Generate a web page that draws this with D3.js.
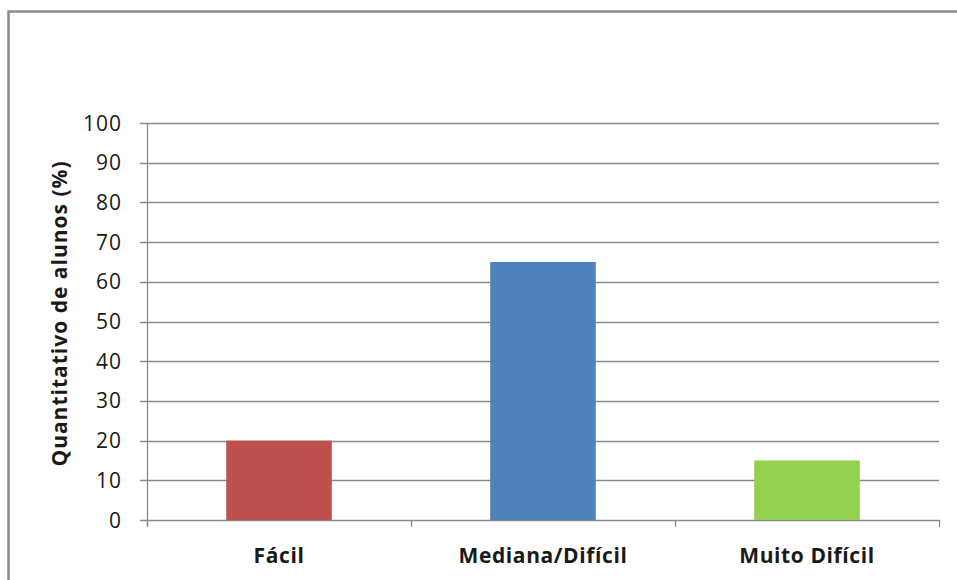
<!DOCTYPE html>
<html>
<head>
<meta charset="utf-8">
<script src="https://cdn.jsdelivr.net/npm/d3@7"></script>
<style>
  body { margin: 0; background: #fff; }
  svg { display: block; font-family: "Open Sans", Lato, sans-serif; }
</style>
</head>
<body>
<div id="chart"></div>
<script>
const categories = ["Fácil", "Mediana/Difícil", "Muito Difícil"];
const values = [20, 65, 15];
const colors = ["#C0504D", "#4F81BD", "#92D050"];
const yTicks = [0, 10, 20, 30, 40, 50, 60, 70, 80, 90, 100];

const width = 957;
const height = 580;
const marginLeft = 147;
const marginRight = 18;
const marginTop = 123;
const marginBottom = 60;

const svg = d3.select("#chart").append("svg")
    .attr("width", width)
    .attr("height", height);

// outer frame (cut off right and bottom like the source image)
svg.append("rect")
    .attr("x", 8.5).attr("y", 11.5)
    .attr("width", width + 20).attr("height", height + 20)
    .attr("fill", "none")
    .attr("stroke", "#8c8c8c")
    .attr("stroke-width", 2.5);

const x = d3.scaleBand(categories, [marginLeft, width - marginRight])
    .paddingInner(0.6)
    .paddingOuter(0.3);

const y = d3.scaleLinear([0, 100], [height - marginBottom, marginTop]);

// gridlines
svg.append("g")
  .selectAll("line")
  .data(yTicks)
  .join("line")
    .attr("x1", marginLeft - 7)
    .attr("x2", width - marginRight)
    .attr("y1", d => Math.round(y(d)) + 0.5)
    .attr("y2", d => Math.round(y(d)) + 0.5)
    .attr("stroke", "#8a8a8a")
    .attr("stroke-width", 1.3);

// y axis line
svg.append("line")
    .attr("x1", marginLeft + 0.5).attr("x2", marginLeft + 0.5)
    .attr("y1", y(100)).attr("y2", y(0) + 7)
    .attr("stroke", "#8a8a8a")
    .attr("stroke-width", 1.3);

// y tick labels
svg.append("g")
  .selectAll("text")
  .data(yTicks)
  .join("text")
    .attr("x", marginLeft - 25)
    .attr("y", d => y(d))
    .attr("dy", "0.36em")
    .attr("text-anchor", "end")
    .attr("font-size", 21)
    .attr("letter-spacing", 1)
    .attr("fill", "#1a1a1a")
    .text(d => d);

// category separators on x axis
const bandEdges = d3.range(categories.length + 1).map(i => marginLeft + i * (width - marginRight - marginLeft) / categories.length);
svg.append("g")
  .selectAll("line")
  .data(bandEdges)
  .join("line")
    .attr("x1", d => Math.round(d) + 0.5)
    .attr("x2", d => Math.round(d) + 0.5)
    .attr("y1", y(0))
    .attr("y2", y(0) + 7)
    .attr("stroke", "#8a8a8a")
    .attr("stroke-width", 1.3);

// bars
svg.append("g")
  .selectAll("rect")
  .data(values)
  .join("rect")
    .attr("x", (d, i) => x(categories[i]))
    .attr("y", d => y(d))
    .attr("width", x.bandwidth())
    .attr("height", d => y(0) - y(d))
    .attr("fill", (d, i) => colors[i]);

// category labels
svg.append("g")
  .selectAll("text")
  .data(categories)
  .join("text")
    .attr("x", d => x(d) + x.bandwidth() / 2)
    .attr("y", 563)
    .attr("text-anchor", "middle")
    .attr("font-size", 21)
    .attr("letter-spacing", 0.6)
    .attr("font-weight", "bold")
    .attr("fill", "#1a1a1a")
    .text(d => d);

// y axis title
svg.append("text")
    .attr("transform", `translate(67, ${(y(0) + y(100)) / 2 - 8}) rotate(-90)`)
    .attr("text-anchor", "middle")
    .attr("font-size", 21)
    .attr("letter-spacing", 1)
    .attr("font-weight", "bold")
    .attr("fill", "#1a1a1a")
    .text("Quantitativo de alunos (%)");
</script>
</body>
</html>
